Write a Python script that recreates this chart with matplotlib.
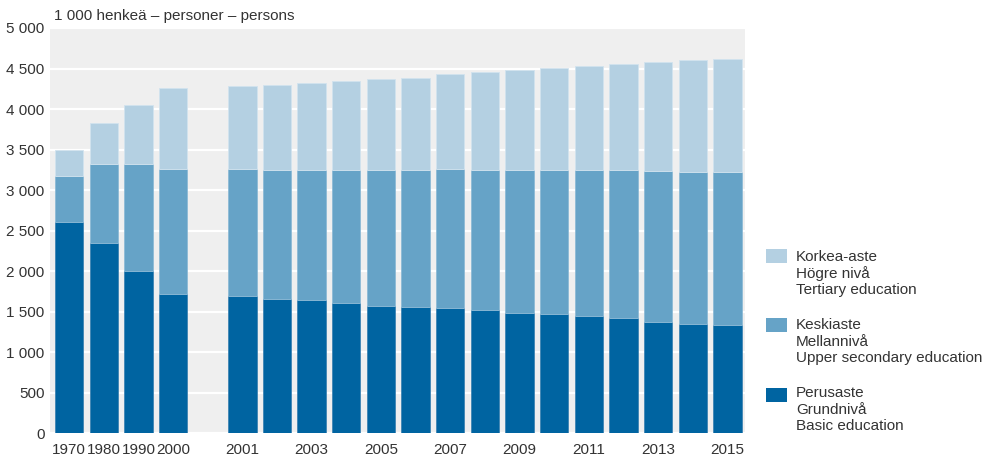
import matplotlib
matplotlib.use("Agg")
import matplotlib.pyplot as plt
from matplotlib.patches import Rectangle
import numpy as np

plt.rcParams['font.family'] = ['Liberation Sans', 'DejaVu Sans']

years = ['1970', '1980', '1990', '2000', '2001', '2002', '2003', '2004', '2005',
         '2006', '2007', '2008', '2009', '2010', '2011', '2012', '2013', '2014', '2015']
shown_labels = ['1970', '1980', '1990', '2000', '2001', '', '2003', '', '2005', '',
                '2007', '', '2009', '', '2011', '', '2013', '', '2015']
# position index: gap of one slot between 2000 and 2001
pos = [0, 1, 2, 3, 5, 6, 7, 8, 9, 10, 11, 12, 13, 14, 15, 16, 17, 18, 19]

# cumulative tops (1 000 persons)
basic = [2602, 2352, 1998, 1722, 1694, 1664, 1640, 1607, 1574, 1562, 1553, 1525,
         1488, 1475, 1451, 1426, 1377, 1352, 1340]
upper_top = [3179, 3319, 3319, 3265, 3265, 3244, 3244, 3249, 3249, 3249, 3265, 3249,
             3249, 3249, 3249, 3249, 3232, 3220, 3220]
total = [3491, 3833, 4052, 4265, 4290, 4302, 4319, 4352, 4377, 4389, 4435, 4463,
         4488, 4504, 4533, 4562, 4578, 4607, 4620]

basic = np.array(basic)
upper = np.array(upper_top) - basic
tertiary = np.array(total) - np.array(upper_top)

c_basic = '#0064a1'
c_upper = '#66a3c7'
c_tert = '#b4d0e2'
txt = '#333333'

W, H = 989, 459
fig = plt.figure(figsize=(W / 100, H / 100), dpi=100)
ax = fig.add_axes([0.0506, 0.0556, 0.7024, 0.8834])
ax.set_facecolor('#efefef')

w = 0.82
ax.bar(pos, basic, w, color=c_basic, edgecolor='#3f84b3', linewidth=0.6, zorder=3)
ax.bar(pos, upper, w, bottom=basic, color=c_upper, edgecolor='#8dbad6', linewidth=0.6, zorder=3)
ax.bar(pos, tertiary, w, bottom=np.array(upper_top), color=c_tert, edgecolor='#d2e3ee',
       linewidth=0.6, zorder=3)

ax.set_ylim(0, 5000)
ax.set_xlim(-0.55, 19.5)
yt = np.arange(0, 5001, 500)
ax.set_yticks(yt)
ax.set_yticklabels(['{:,}'.format(v).replace(',', ' ') for v in yt])
ax.set_xticks(pos)
ax.set_xticklabels(shown_labels)
ax.yaxis.grid(True, color='white', linewidth=1.6, zorder=1)
ax.set_axisbelow(True)
for s in ax.spines.values():
    s.set_visible(False)
ax.tick_params(axis='both', length=0, labelsize=11, colors=txt)
ax.tick_params(axis='y', pad=4)
ax.tick_params(axis='x', pad=7)

fig.text(0.0546, 0.966, '1 000 henkeä – personer – persons', fontsize=11, color=txt,
         ha='left', va='center')

# legend, patch aligned with first text line
leg_colors = [c_tert, c_upper, c_basic]
leg_labels = ['Korkea-aste\nHögre nivå\nTertiary education',
              'Keskiaste\nMellannivå\nUpper secondary education',
              'Perusaste\nGrundnivå\nBasic education']
patch_top = [249, 318, 388]
text_mid = [273.5, 341.5, 409.5]
for col, lab, pt, tm in zip(leg_colors, leg_labels, patch_top, text_mid):
    fig.add_artist(Rectangle((766 / W, 1 - (pt + 14) / H), 21 / W, 14 / H,
                             transform=fig.transFigure, facecolor=col, edgecolor='none'))
    fig.text(796 / W, 1 - tm / H, lab, fontsize=11, color=txt, ha='left', va='center',
             linespacing=1.2)

fig.savefig('out.png', dpi=100)
